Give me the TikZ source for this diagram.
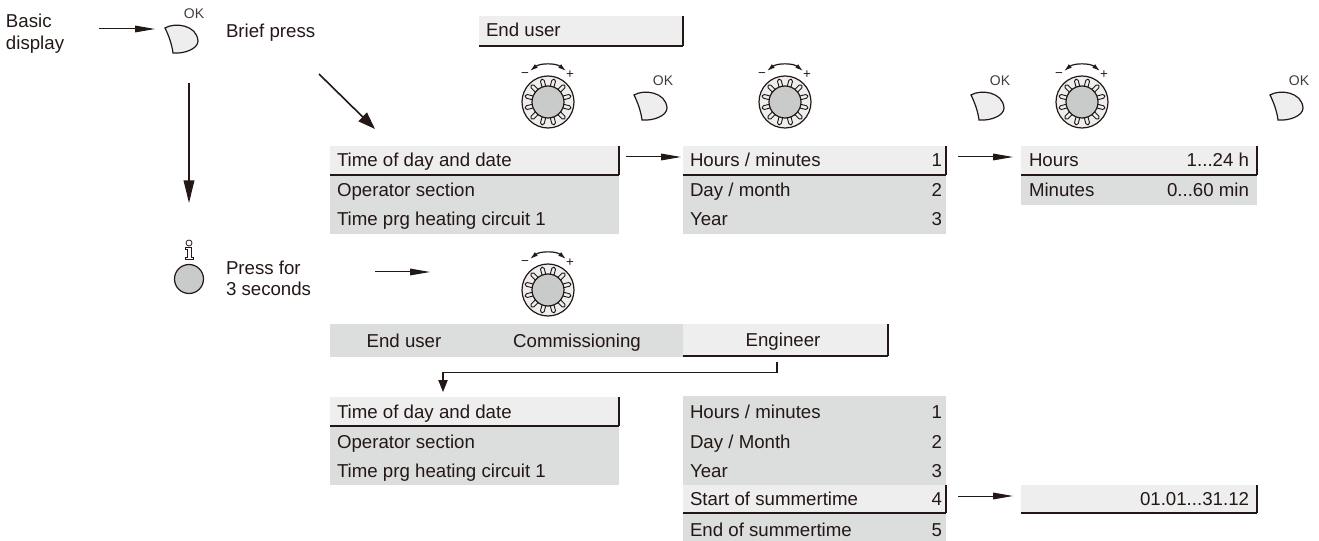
\documentclass[tikz,border=0pt]{standalone}
\usepackage{fontspec}
\setmainfont{Liberation Sans}
\usetikzlibrary{arrows.meta}
\definecolor{rowgrey}{HTML}{DCDDDD}
\definecolor{rowlight}{HTML}{EEEEEE}
\definecolor{ink}{HTML}{231815}
\definecolor{knobgrey}{HTML}{C9CACA}
\tikzset{
  x=0.75pt,y=-0.75pt,
  every node/.style={font=\fontsize{14pt}{16.8pt}\selectfont,text=ink,inner sep=0pt,outer sep=0pt},
  lab/.style={anchor=base west},
  num/.style={anchor=base east},
  small/.style={font=\fontsize{10.5pt}{12pt}\selectfont,anchor=center,text=ink!85},
  tiny/.style={font=\fontsize{10pt}{11pt}\selectfont,anchor=center},
  conn/.style={draw=ink,line width=0.75pt,-{Triangle[length=15pt,width=5pt]}},
  bigconn/.style={draw=ink,line width=1.2pt,-{Triangle[length=17pt,width=8pt]}},
  diagconn/.style={draw=ink,line width=1.2pt,-{Triangle[length=13pt,width=9pt]}},
  bar/.style={draw=ink,line width=2pt},
  edge/.style={draw=ink,line width=0.9pt},
}
\newcommand{\okbtn}[2]{%
  \begin{scope}[shift={(#1,#2)}]
    \draw[edge,fill=rowlight] (-16,-11) .. controls (-6,-17) and (16,-14) .. (17,2)
      .. controls (17,10) and (3,15) .. (-8,14) .. controls (-9,6) and (-12,-3) .. (-16,-11) -- cycle;
    \node[small] at (13,-25) {OK};
  \end{scope}}
\newcommand{\knob}[2]{%
  \begin{scope}[shift={(#1,#2)}]
    \draw[edge,fill=rowlight] (0,0) circle (26);
    \foreach \a in {15,45,...,345}{
      \draw[ink,fill=rowlight,line width=0.7pt,rounded corners=1.2pt,rotate=\a] (23.5,-1.9) rectangle (13,1.9);
    }
    \draw[edge,fill=knobgrey] (0,0) circle (16);
    \draw[ink,line width=0.9pt,{Latex[length=6pt,width=3.5pt]}-{Latex[length=6pt,width=3.5pt]}] (-18,-31) .. controls (-8,-39) and (8,-39) .. (18,-31);
    \node[tiny] at (-23,-27) {\textminus};
    \node[tiny] at (22,-27) {+};
  \end{scope}}
\newcommand{\rowfill}[5]{\fill[#5] (#1,#2) rectangle (#3,#4);}
\newcommand{\rowbar}[4]{\draw[bar] (#1,#3) -- (#2,#3); \draw[bar,line width=1.6pt] (#2,#3) -- (#2,#4);}
\begin{document}
\begin{tikzpicture}
\useasboundingbox (0,0) rectangle (1319,541);
% Top left
\node[lab] (basic) at (6,28) {Basic};
\node[lab] (disp) at (6,50) {display};
\node[lab] (brief) at (226,38) {Brief press};
\okbtn{181}{39}
\coordinate (a1s) at (99,29); \coordinate (a1e) at (155,29);
\draw[conn] (a1s) -- (a1e);
\coordinate (a2s) at (189,83); \coordinate (a2e) at (189,203);
\draw[bigconn] (a2s) -- (a2e);
\coordinate (a3s) at (319,74); \coordinate (a3e) at (375,129);
\draw[diagconn] (a3s) -- (a3e);
% End user tab
\rowfill{479}{16}{683}{46}{rowlight}
\rowbar{479}{683}{46}{16}
\node[lab] (eu) at (486,37) {End user};
% Knobs and OK
\knob{548}{102} \okbtn{650}{106}
\knob{785}{102} \okbtn{987}{106}
\knob{1082}{102} \okbtn{1286}{106}
% Menu 1
\rowfill{330}{146}{619}{234}{rowgrey}
\rowfill{330}{146}{619}{175}{rowlight}
\rowbar{330}{619}{175}{146}
\node[lab] (m1a) at (337,167) {Time of day and date};
\node[lab] (m1b) at (337,197) {Operator section};
\node[lab] (m1c) at (337,226) {Time prg heating circuit 1};
% Menu 2
\rowfill{683}{146}{946}{234}{rowgrey}
\rowfill{683}{146}{946}{175}{rowlight}
\rowbar{683}{946}{175}{146}
\node[lab] (m2a) at (690,167) {Hours / minutes};
\node[lab] (m2b) at (690,197) {Day / month};
\node[lab] (m2c) at (690,226) {Year};
\node[num] at (942,167) {1};
\node[num] at (942,197) {2};
\node[num] at (942,226) {3};
% Menu 3
\rowfill{1021}{146}{1257}{205}{rowgrey}
\rowfill{1021}{146}{1257}{175}{rowlight}
\rowbar{1021}{1257}{175}{146}
\node[lab] at (1029,167) {Hours};
\node[lab] at (1029,197) {Minutes};
\node[num] at (1249,167) {1...24 h};
\node[num] at (1249,197) {0...60 min};
\coordinate (b1s) at (626,157); \coordinate (b1e) at (681,157);
\draw[conn] (b1s) -- (b1e);
\coordinate (b2s) at (958,157); \coordinate (b2e) at (1013,157);
\draw[conn] (b2s) -- (b2e);
% Press for
\draw[edge,fill=knobgrey] (189,279) circle (14.5);
\draw[ink,line width=0.6pt] (189,243) circle (3);
\draw[ink,line width=0.6pt] (185,247) -- (191,247) -- (191,257) -- (193,257) -- (193,259) -- (185,259) -- (185,257) -- (187,257) -- (187,249) -- (185,249) -- cycle;
\node[lab] (press) at (226,275) {Press for};
\node[lab] (sec) at (226,296) {3 seconds};
\coordinate (c1s) at (375,272); \coordinate (c1e) at (430,272);
\draw[conn] (c1s) -- (c1e);
\knob{548}{290}
% Tabs
\rowfill{330}{324}{683}{357}{rowgrey}
\rowfill{683}{324}{888}{355}{rowlight}
\rowbar{683}{888}{356}{324}
\node[anchor=base] (tu) at (404,347) {End user};
\node[anchor=base] (tc) at (577,347) {Commissioning};
\node[anchor=base] (te) at (783,346) {Engineer};
\coordinate (d1) at (777,362);
\draw[ink,line width=0.8pt,-{Triangle[length=9pt,width=7pt]}] (d1) -- (777,372.5) -- (443,372.5) -- (443,392);
% Menu 4
\rowfill{330}{397}{619}{485}{rowgrey}
\rowfill{330}{397}{619}{426}{rowlight}
\rowbar{330}{619}{426}{397}
\node[lab] (m4a) at (337,418) {Time of day and date};
\node[lab] (m4b) at (337,448) {Operator section};
\node[lab] (m4c) at (337,477) {Time prg heating circuit 1};
% Menu 5
\rowfill{683}{396}{946}{541}{rowgrey}
\rowfill{683}{485}{946}{513}{rowlight}
\rowbar{683}{946}{513}{485}
\node[lab] at (690,418) {Hours / minutes};
\node[lab] at (690,448) {Day / Month};
\node[lab] at (690,477) {Year};
\node[lab] at (690,505) {Start of summertime};
\node[lab] at (690,536) {End of summertime};
\node[num] at (942,418) {1};
\node[num] at (942,448) {2};
\node[num] at (942,477) {3};
\node[num] at (942,505) {4};
\node[num] at (942,536) {5};
% Box
\rowfill{1021}{485}{1257}{513}{rowlight}
\rowbar{1021}{1257}{513}{485}
\node[num] at (1249,505) {01.01...31.12};
\coordinate (e1s) at (958,496); \coordinate (e1e) at (1013,496);
\draw[conn] (e1s) -- (e1e);
\end{tikzpicture}
\end{document}
